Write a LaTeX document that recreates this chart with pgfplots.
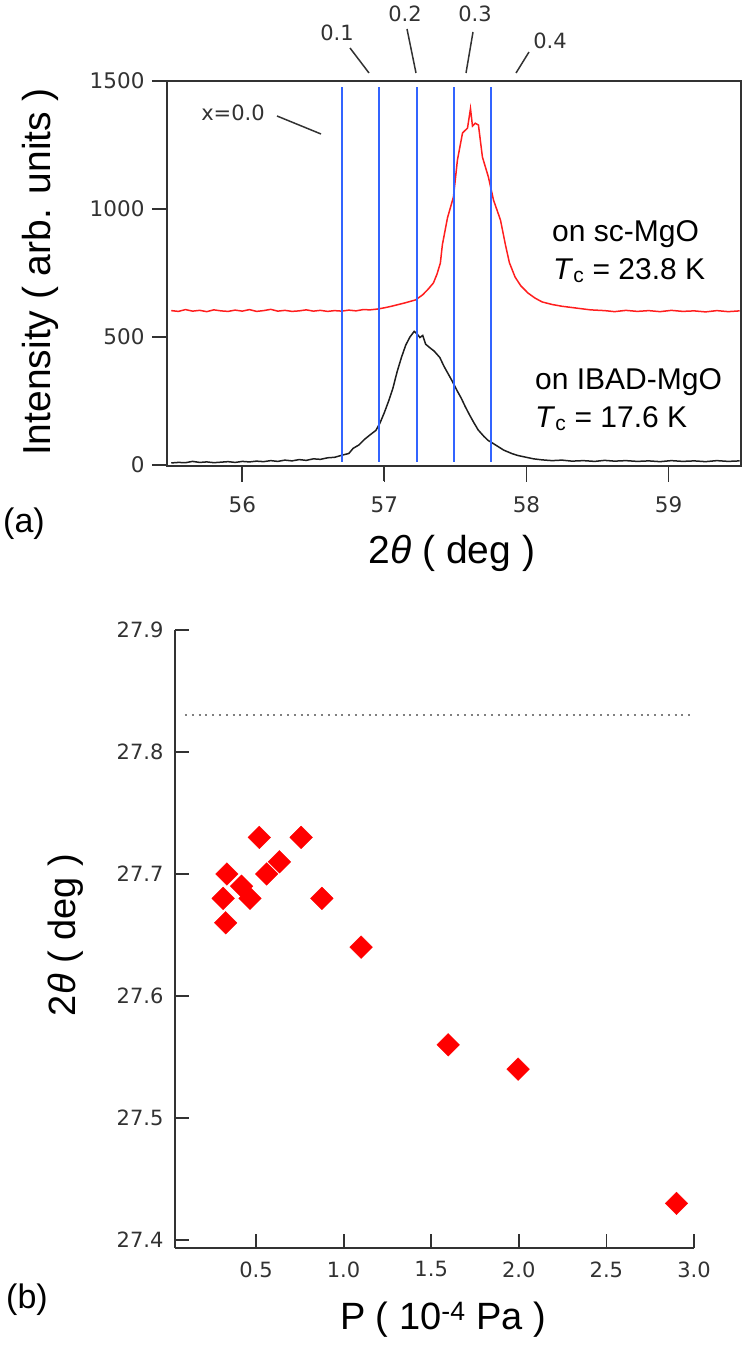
\documentclass[border=0pt]{standalone}
\usepackage{pgfplots}
\pgfplotsset{compat=1.18}
\usepackage{fontspec}
\setmainfont{Liberation Sans}
\newfontfamily\dejavu{DejaVu Sans}
\definecolor{axgray}{RGB}{50,50,50}
\definecolor{linblue}{RGB}{50,100,255}
\definecolor{curvered}{RGB}{255,30,30}
\definecolor{curveblack}{RGB}{30,30,30}
\begin{document}
\begin{tikzpicture}[x=1pt,y=1pt]
\useasboundingbox (0,0) rectangle (750,-1348);
% ---------------- panel (a): data axis with bottom and left lines
\begin{axis}[at={(167pt,-466pt)}, anchor=south west, scale only axis,
  width=574pt, height=385pt,
  xmin=55.47, xmax=59.51, ymin=-4, ymax=1500,
  axis x line=bottom, axis y line=left,
  axis line style={-, line width=2pt, axgray},
  tick align=outside, major tick length=15pt,
  tick style={line width=1.8pt, axgray},
  xtick={56,57,58,59}, xticklabels={56,57,58,59},
  ytick={0,500,1000,1500}, yticklabels={0,500,1000,1500},
  tick label style={font=\dejavu\fontsize{21.5}{24}\selectfont, text=axgray},
  xticklabel style={yshift=-12pt},
  yticklabel style={xshift=-4pt},
  clip=false]
\addplot[curveblack, line width=1.5pt] coordinates {
(55.50,8) (55.55,10) (55.60,9) (55.65,14) (55.70,10) (55.75,12) (55.80,9) (55.85,11)
(55.90,13) (55.95,10) (56.00,14) (56.05,12) (56.10,15) (56.15,13) (56.20,17) (56.25,14)
(56.30,19) (56.35,16) (56.40,21) (56.45,18) (56.50,24) (56.55,22) (56.60,28) (56.65,30)
(56.70,38) (56.75,45) (56.78,65) (56.82,78) (56.86,100) (56.90,118) (56.94,135) (56.97,165)
(57.00,205) (57.03,250) (57.06,300) (57.09,365) (57.12,420) (57.15,468) (57.18,500) (57.21,522)
(57.23,512) (57.25,498) (57.27,506) (57.29,472) (57.32,458) (57.35,445) (57.39,420) (57.42,385)
(57.45,355) (57.48,325) (57.51,292) (57.54,262) (57.57,227) (57.60,195) (57.63,165) (57.66,137)
(57.70,112) (57.73,96) (57.76,86) (57.80,72) (57.84,58) (57.87,51) (57.90,44) (57.94,37)
(57.99,31) (58.05,24) (58.11,20) (58.18,17) (58.25,19) (58.32,15) (58.40,17) (58.48,14)
(58.55,18) (58.62,15) (58.70,17) (58.78,14) (58.86,16) (58.94,13) (59.02,17) (59.10,14)
(59.18,16) (59.26,13) (59.34,17) (59.42,14) (59.50,16)};
\addplot[curvered, line width=1.5pt] coordinates {
(55.50,603) (55.55,600) (55.60,607) (55.65,601) (55.70,604) (55.75,599) (55.80,606) (55.85,602)
(55.90,600) (55.95,605) (56.00,601) (56.05,607) (56.10,600) (56.15,603) (56.20,608) (56.25,601)
(56.30,604) (56.35,600) (56.40,602) (56.45,606) (56.50,601) (56.55,604) (56.60,600) (56.65,603)
(56.70,601) (56.75,605) (56.80,602) (56.85,607) (56.90,606) (56.95,609) (57.00,614) (57.05,620)
(57.10,627) (57.15,634) (57.22,645) (57.27,665) (57.31,688) (57.345,711) (57.37,745) (57.394,789)
(57.408,860) (57.444,965) (57.486,1047) (57.514,1191) (57.55,1297) (57.585,1316) (57.606,1392)
(57.62,1324) (57.64,1335) (57.662,1328) (57.69,1203) (57.732,1125) (57.768,1035) (57.817,957)
(57.852,860) (57.88,790) (57.92,734) (57.96,700) (58.01,672) (58.06,652) (58.11,637) (58.18,627)
(58.25,620) (58.35,613) (58.45,606) (58.55,603) (58.62,599) (58.70,604) (58.78,600) (58.86,603)
(58.94,599) (59.02,604) (59.10,600) (59.18,602) (59.26,598) (59.34,603) (59.42,599) (59.50,602)};
\addplot[linblue, line width=2.4pt] coordinates {(56.70,12) (56.70,1478)};
\addplot[linblue, line width=2.4pt] coordinates {(56.96,12) (56.96,1478)};
\addplot[linblue, line width=2.4pt] coordinates {(57.23,12) (57.23,1478)};
\addplot[linblue, line width=2.4pt] coordinates {(57.49,12) (57.49,1478)};
\addplot[linblue, line width=2.4pt] coordinates {(57.75,12) (57.75,1478)};
\end{axis}
% ---------------- panel (a): top and right lines of the frame
\begin{axis}[at={(167pt,-466pt)}, anchor=south west, scale only axis,
  width=574pt, height=385pt,
  xmin=55.47, xmax=59.51, ymin=-4, ymax=1500,
  axis x line=top, axis y line=right,
  axis line style={-, line width=2pt, axgray},
  xtick=\empty, ytick=\empty]
\end{axis}
% annotations panel (a), with frame lines drawn in the same scope
\begin{scope}[axgray, line width=1.5pt]
\draw (277,-116) -- (321,-134);
\draw (350,-48) -- (369,-73);
\draw (407,-29) -- (416,-73);
\draw (473,-32) -- (466,-73);
\draw (529,-52) -- (516,-73);
\draw[line width=2pt] (167,-81) -- (741,-81) -- (741,-466) -- (167,-466) -- cycle;
\draw[line width=1.8pt] (152,-465) -- (167,-465);
\draw[line width=1.8pt] (152,-337) -- (167,-337);
\draw[line width=1.8pt] (152,-209) -- (167,-209);
\draw[line width=1.8pt] (152,-81) -- (167,-81);
\draw[line width=1.8pt] (242.3,-466) -- (242.3,-482);
\draw[line width=1.8pt] (384.4,-466) -- (384.4,-482);
\draw[line width=1.8pt] (526.5,-466) -- (526.5,-482);
\draw[line width=1.8pt] (668.5,-466) -- (668.5,-482);
\end{scope}
\begin{scope}[font=\dejavu\fontsize{21}{24}\selectfont, text=axgray]
\node at (233,-113) {x=0.0};
\node at (337,-33) {0.1};
\node at (405,-14) {0.2};
\node at (475,-14) {0.3};
\node at (550,-41) {0.4};
\end{scope}
\begin{scope}[font=\fontsize{30}{34}\selectfont]
\node[anchor=base west, inner sep=0] at (552,-241) {on sc-MgO};
\node[anchor=base west, inner sep=0] at (553,-279) {\textit{T}\textsubscript{c} = 23.8 K};
\node[anchor=base west, inner sep=0] at (535,-389) {on IBAD-MgO};
\node[anchor=base west, inner sep=0] at (535,-427) {\textit{T}\textsubscript{c} = 17.6 K};
\end{scope}
\node[rotate=90, font=\fontsize{39}{44}\selectfont] at (40,-272) {Intensity ( arb. units )};
\node[font=\fontsize{39}{44}\selectfont] at (452,-553) {2\textit{θ} ( deg )};
\node[font=\fontsize{34}{38}\selectfont] at (24,-524) {(a)};
% ---------------- panel (b)
\begin{axis}[at={(175pt,-1248pt)}, anchor=south west, scale only axis,
  width=519pt, height=618pt,
  xmin=0.038, xmax=3.0, ymin=27.3934, ymax=27.9,
  axis x line=bottom, axis y line=left,
  axis line style={-, line width=2pt, axgray},
  tick align=inside, major tick length=14pt,
  tick style={line width=1.8pt, axgray},
  xtick={0.5,1.0,1.5,2.0,2.5,3.0}, xticklabels={0.5,1.0,1.5,2.0,2.5,3.0},
  ytick={27.4,27.5,27.6,27.7,27.8,27.9}, yticklabels={27.4,27.5,27.6,27.7,27.8,27.9},
  tick label style={font=\dejavu\fontsize{21}{24}\selectfont, text=axgray},
  xticklabel style={yshift=-10pt},
  yticklabel style={xshift=-8pt},
  clip=false]
\addplot[gray, line width=2pt, dash pattern=on 2pt off 4.8pt] coordinates {(0.095,27.83) (2.99,27.83)};
\addplot[only marks, mark=square*, mark size=8pt, color=red,
  every mark/.append style={rotate=45}] coordinates {
(0.334,27.70) (0.313,27.68) (0.327,27.66) (0.418,27.69) (0.466,27.68) (0.519,27.73)
(0.561,27.70) (0.634,27.71) (0.758,27.73) (0.876,27.68) (1.10,27.64) (1.597,27.56)
(1.996,27.54) (2.90,27.43)};
\end{axis}
\begin{scope}[axgray, line width=1.8pt]
\draw (175,-1240) -- (189,-1240);
\draw (175,-1118) -- (189,-1118);
\draw (175,-996) -- (189,-996);
\draw (175,-874) -- (189,-874);
\draw (175,-752) -- (189,-752);
\draw (175,-630) -- (189,-630);
\draw (256,-1248) -- (256,-1234);
\draw (343.6,-1248) -- (343.6,-1234);
\draw (431.2,-1248) -- (431.2,-1234);
\draw (518.8,-1248) -- (518.8,-1234);
\draw (606.4,-1248) -- (606.4,-1234);
\draw (694,-1248) -- (694,-1234);
\end{scope}
\node[rotate=90, font=\fontsize{38}{44}\selectfont] at (66,-935) {2\textit{θ} ( deg )};
\node[font=\fontsize{38}{44}\selectfont] at (443,-1320) {P ( 10\textsuperscript{-4} Pa )};
\node[font=\fontsize{34}{38}\selectfont] at (27,-1300) {(b)};
\end{tikzpicture}
\end{document}
